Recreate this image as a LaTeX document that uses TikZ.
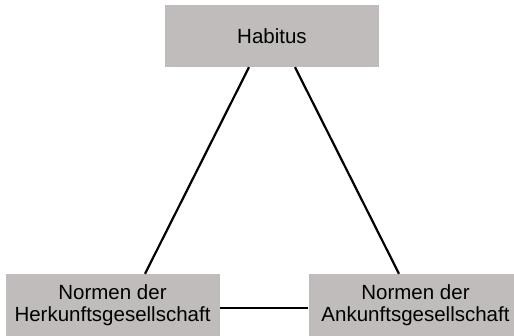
\documentclass[tikz,border=0pt]{standalone}
\usepackage{fontspec}
\setmainfont{Liberation Sans}
\usepackage{tikz}
\usepackage{xcolor}
\definecolor{boxgray}{RGB}{192,188,187}

\begin{document}
\begin{tikzpicture}[
            x = 1pt, y = -1pt, % pixel units, y downwards
            box/.style = {fill=boxgray, minimum width=214pt, minimum height=62pt,
                          inner sep=0pt, align=center,
                          font=\fontsize{20.5}{22}\selectfont}, % grey boxes
            link/.style = {line width=2.2pt} % connecting lines
        ]
\useasboundingbox (0,0) rectangle (514,335);
\node[box] (H) at (272,36) {Habitus};
\node[box] (NH) at (112.5,305) {Normen der\\Herkunftsgesellschaft};
\node[box] (NA) at (415.5,305) {Normen der\\Ankunftsgesellschaft};


 \path [link] ([xshift=-23pt]H.south) edge ([xshift=32.5pt]NH.north)
              ([xshift=23pt]H.south) edge ([xshift=-16.5pt]NA.north)
              ([yshift=-3pt]NH.east) edge ([yshift=-3pt]NA.west);
\end{tikzpicture}
\end{document}
